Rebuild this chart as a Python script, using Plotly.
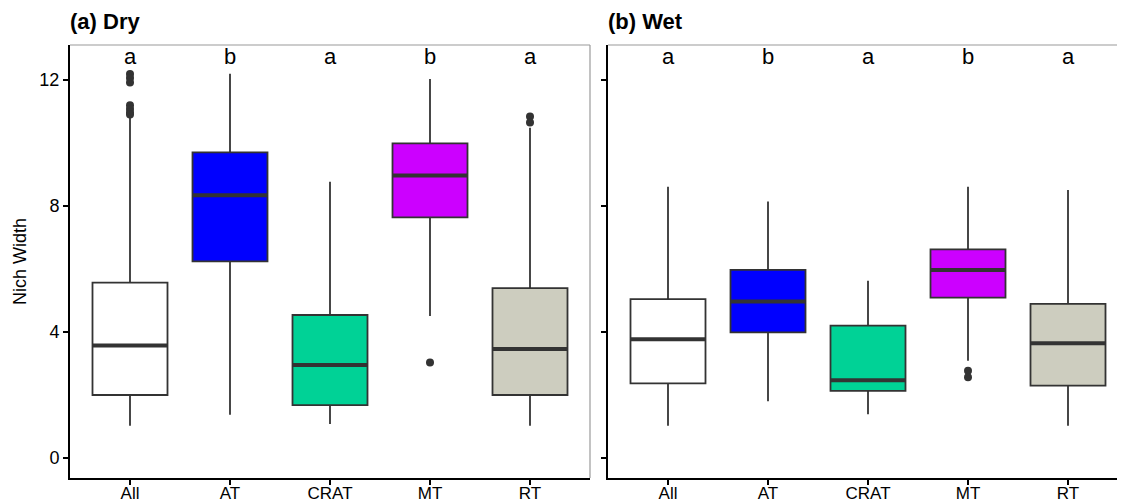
import plotly.graph_objects as go

categories = ["All", "AT", "CRAT", "MT", "RT"]
fill_colors = ["#FFFFFF", "#0000FF", "#00D296", "#CC00FF", "#CDCDBF"]
letters = ["a", "b", "a", "b", "a"]

# (a) Dry
dry_lower = [1.02, 1.37, 1.08, 4.51, 1.02]
dry_q1 = [2.00, 6.24, 1.68, 7.64, 2.00]
dry_median = [3.57, 8.34, 2.95, 8.97, 3.46]
dry_q3 = [5.57, 9.70, 4.54, 9.99, 5.39]
dry_upper = [10.83, 12.20, 8.77, 12.03, 10.48]
dry_outliers = [[12.19, 12.06, 11.92, 11.20, 11.08, 10.97, 10.90], [], [], [3.03], [10.84, 10.65]]

# (b) Wet
wet_lower = [1.02, 1.80, 1.39, 3.09, 1.02]
wet_q1 = [2.37, 3.99, 2.13, 5.09, 2.30]
wet_median = [3.77, 4.97, 2.47, 5.97, 3.64]
wet_q3 = [5.04, 5.97, 4.20, 6.62, 4.89]
wet_upper = [8.61, 8.14, 5.63, 8.61, 8.51]
wet_outliers = [[], [], [], [2.77, 2.56], []]

y_ticks = [0, 4, 8, 12]
letter_y = 12.73

FONT = "Liberation Sans, Arial, sans-serif"
LINE = "#333333"
W, H = 1125, 502
BOX_W = 0.75
OFF = 8  # page body margin offset

fig = go.Figure()

panels = [
    ("x", "y", dry_lower, dry_q1, dry_median, dry_q3, dry_upper, dry_outliers),
    ("x2", "y2", wet_lower, wet_q1, wet_median, wet_q3, wet_upper, wet_outliers),
]

for xa, ya, lo, q1, med, q3, up, outs in panels:
    for i, cat in enumerate(categories):
        fig.add_trace(go.Box(
            x=[i], q1=[q1[i]], median=[med[i]], q3=[q3[i]],
            lowerfence=[lo[i]], upperfence=[up[i]],
            width=BOX_W, whiskerwidth=0,
            fillcolor=fill_colors[i],
            line=dict(color=LINE, width=1.8),
            boxpoints=False, showlegend=False, hoverinfo="skip",
            xaxis=xa, yaxis=ya,
        ))
    # thick median bars
    mx, my = [], []
    for i in range(len(categories)):
        mx += [i - BOX_W / 2, i + BOX_W / 2, None]
        my += [med[i], med[i], None]
    fig.add_trace(go.Scatter(x=mx, y=my, mode="lines",
                             line=dict(color=LINE, width=4),
                             showlegend=False, hoverinfo="skip",
                             xaxis=xa, yaxis=ya))
    # outliers
    ox, oy = [], []
    for i, vals in enumerate(outs):
        ox += [i] * len(vals)
        oy += vals
    fig.add_trace(go.Scatter(x=ox, y=oy, mode="markers",
                             marker=dict(color=LINE, size=8),
                             showlegend=False, hoverinfo="skip",
                             xaxis=xa, yaxis=ya))
    # significance letters
    for i, lt in enumerate(letters):
        fig.add_annotation(x=i, y=letter_y, xref=xa, yref=ya, text=lt,
                           showarrow=False, font=dict(family=FONT, size=22, color="black"))

x1d = [(70 - OFF) / W, (590 - OFF) / W]
x2d = [(608 - OFF) / W, 1.0]
yd = [(H - 478 + OFF) / H, 1 - (45 - OFF) / H]
x2_span = (W - (608 - OFF)) / 100.0  # 100 px per category

axis_common = dict(showgrid=False, zeroline=False, showline=True, linecolor="black",
                   linewidth=2, ticks="outside", ticklen=5, tickwidth=1.5, tickcolor="black",
                   automargin=False)
xfont = dict(family=FONT, size=17, color="black")
yfont = dict(family=FONT, size=18, color="black")

fig.update_layout(
    width=W, height=H,
    margin=dict(l=0, r=0, t=0, b=0),
    paper_bgcolor="white", plot_bgcolor="white",
    xaxis=dict(domain=x1d, range=[-0.6, 4.6], tickvals=list(range(5)), ticktext=categories,
               anchor="y", tickfont=xfont, ticklabelstandoff=-6, **axis_common),
    xaxis2=dict(domain=x2d, range=[-0.6, -0.6 + x2_span], tickvals=list(range(5)), ticktext=categories,
                anchor="y2", tickfont=xfont, ticklabelstandoff=-6, **axis_common),
    yaxis=dict(domain=yd, range=[-0.635, 13.11], tickvals=y_ticks, anchor="x", tickfont=yfont,
               title=dict(text="Nich Width", font=dict(family=FONT, size=18, color="black"), standoff=8),
               **axis_common),
    yaxis2=dict(domain=yd, range=[-0.635, 13.11], tickvals=y_ticks, anchor="x2", tickfont=yfont,
                showticklabels=False, matches="y", **axis_common),
)

# thin grey panel borders (top of both panels, right side of left panel)
for xr, yr in [("x domain", "y domain"), ("x2 domain", "y2 domain")]:
    fig.add_shape(type="line", xref=xr, yref=yr, x0=0, x1=1, y0=1, y1=1,
                  line=dict(color="#9A9A9A", width=1.2), layer="above")
fig.add_shape(type="line", xref="x domain", yref="y domain", x0=1, x1=1, y0=0, y1=1,
              line=dict(color="#9A9A9A", width=1.2), layer="above")

# panel titles
fig.add_annotation(x=x1d[0] - 2 / W, y=1 - (22 - OFF) / H, xref="paper", yref="paper", text="<b>(a) Dry</b>",
                   showarrow=False, xanchor="left", yanchor="middle",
                   font=dict(family=FONT, size=22, color="black"))
fig.add_annotation(x=x2d[0] - 2 / W, y=1 - (22 - OFF) / H, xref="paper", yref="paper", text="<b>(b) Wet</b>",
                   showarrow=False, xanchor="left", yanchor="middle",
                   font=dict(family=FONT, size=22, color="black"))

fig.write_html("out.html")
